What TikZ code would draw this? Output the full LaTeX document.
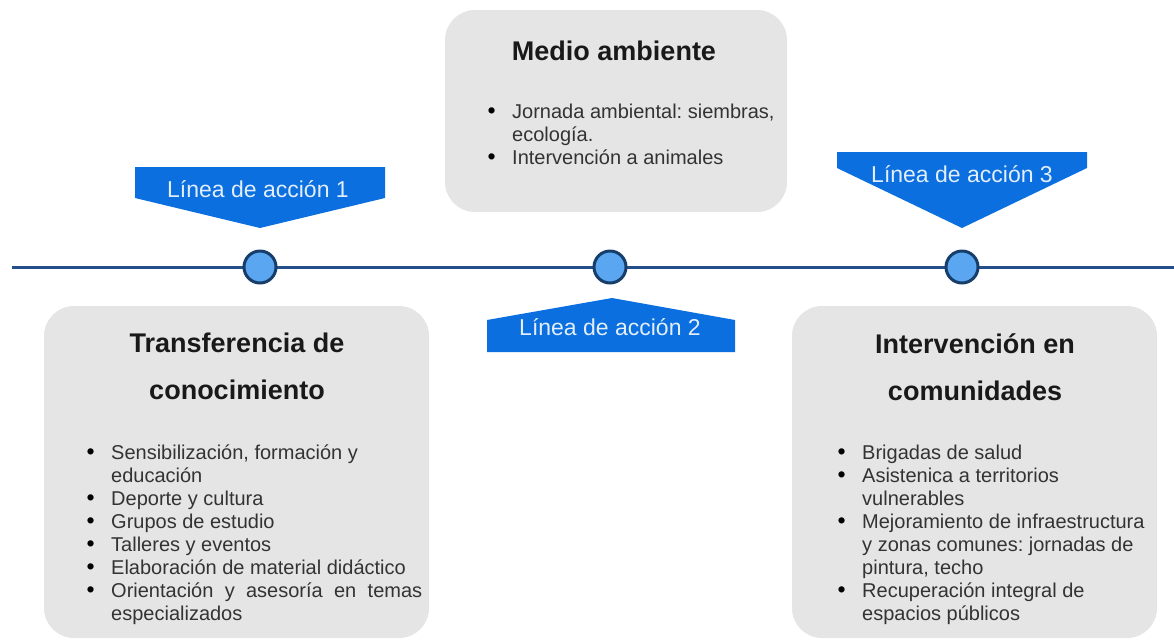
\documentclass[tikz,border=0pt]{standalone}
\usepackage{fontspec}
\setmainfont{Liberation Sans}
\frenchspacing
\definecolor{boxgray}{HTML}{E5E5E5}
\definecolor{banblue}{HTML}{0B6FDF}
\definecolor{linenavy}{HTML}{244F8A}
\definecolor{dotblue}{HTML}{5AA6F0}
\definecolor{dotrim}{HTML}{173E6B}
\definecolor{bodytext}{HTML}{333333}
\newcommand{\itm}{\makebox[25pt][l]{\hspace{0.5pt}\textcolor{black}{\scalebox{1.15}{\textbullet}}}}
\newcommand{\cnt}{\hspace*{25pt}}
\tikzset{
	card/.style={fill=boxgray, rounded corners=30pt},
	cardtitle/.style={inner sep=0, font=\fontsize{27}{47}\selectfont\bfseries, text=black!90, align=center},
	cardlist/.style={inner sep=0, anchor=north west, font=\fontsize{20}{23}\selectfont, text=bodytext, align=left},
	banner/.style={fill=banblue},
	bantext/.style={inner sep=0, font=\fontsize{23}{26}\selectfont, text=white!88!banblue},
	milestone/.style={circle, fill=dotblue, draw=dotrim, line width=3pt, minimum size=32pt, inner sep=0}
}
\begin{document}
\begin{tikzpicture}[x=1pt, y=-1pt]
		\useasboundingbox (0,0) rectangle (1174,641);
		% Cards
		\fill[card] (445,10) rectangle (787,212);
		\fill[card] (44,306) rectangle (429,638);
		\fill[card] (792,306) rectangle (1157,638);
		\node[cardtitle, anchor=base] (medio) at (614,60) {Medio ambiente};
		\node[cardtitle, anchor=north] (transf) at (237,333) {Transferencia de\\conocimiento};
		\node[cardtitle, anchor=north] (interv) at (975,333) {Intervención en\\comunidades};
		\node[cardlist] (mlist) at (487,103.5) {\itm Jornada ambiental: siembras,\\ \cnt ecología.\\ \itm Intervención a animales};
		\node[cardlist] (tlist) at (86,444.5) {\itm Sensibilización, formación y\\ \cnt educación\\ \itm Deporte y cultura\\ \itm Grupos de estudio\\ \itm Talleres y eventos\\ \itm Elaboración de material didáctico\\ \itm \makebox[311pt][s]{Orientación y asesoría en temas}\\ \cnt especializados};
		\node[cardlist] (ilist) at (837,444.5) {\itm Brigadas de salud\\ \itm Asistenica a territorios\\ \cnt vulnerables\\ \itm Mejoramiento de infraestructura\\ \cnt y zonas comunes: jornadas de\\ \cnt pintura, techo\\ \itm Recuperación integral de\\ \cnt espacios públicos};
		% Banners
		\fill[banner] (135,167) -- (385,167) -- (385,198) -- (260,228) -- (135,198) -- cycle;
		\node[bantext] (lin1) at (258,189.5) {Línea de acción 1};
		\fill[banner] (612,298) -- (735,320) -- (735,352) -- (487,352) -- (487,320) -- cycle;
		\node[bantext] (lin2) at (610,327) {Línea de acción 2};
		\fill[banner] (837,152) -- (1087,152) -- (1087,168) -- (962,228) -- (837,168) -- cycle;
		\node[bantext] (lin3) at (962,174.5) {Línea de acción 3};
		% Timeline
		\coordinate (tstart) at (12,267);
		\coordinate (tend) at (1174,267);
		\draw[linenavy, line width=3pt] (tstart) -- (tend);
		\node[milestone] (m1) at (260,267) {};
		\node[milestone] (m2) at (610,267) {};
		\node[milestone] (m3) at (962,267) {};
\end{tikzpicture}
\end{document}
